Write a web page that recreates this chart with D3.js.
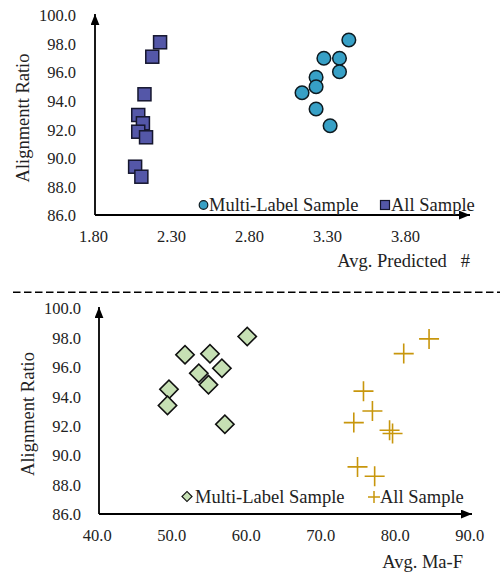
<!DOCTYPE html>
<html>
<head>
<meta charset="utf-8">
<script src="https://cdn.jsdelivr.net/npm/d3@7"></script>
<style>
  body { margin: 0; background: #fff; }
  svg text { font-family: "Times New Roman", "Liberation Serif", "DejaVu Serif", serif; }
</style>
</head>
<body>
<svg id="chart" width="500" height="574"></svg>
<script>
// top panel: avg predicted # vs alignment ratio
const multiPredicted = [3.44, 3.28, 3.38, 3.38, 3.23, 3.23, 3.14, 3.23, 3.32];
const multiRatioTop  = [98.25, 96.97, 96.97, 96.03, 95.64, 94.98, 94.56, 93.42, 92.25];
const allPredicted   = [2.23, 2.18, 2.13, 2.09, 2.12, 2.09, 2.14, 2.07, 2.11];
const allRatioTop    = [98.09, 97.08, 94.45, 93.00, 92.42, 91.83, 91.44, 89.38, 88.68];

// bottom panel: avg Ma-F vs alignment ratio
const multiMaF        = [60.2, 51.85, 55.2, 56.8, 53.7, 55.0, 49.7, 49.5, 57.2];
const multiRatioBot   = [98.06, 96.82, 96.89, 95.91, 95.57, 94.79, 94.47, 93.38, 92.10];
const allMaF          = [84.6, 81.2, 75.8, 77.0, 74.5, 79.3, 79.7, 75.0, 77.3];
const allRatioBot     = [97.9, 96.9, 94.35, 93.0, 92.21, 91.69, 91.47, 89.2, 88.57];

const ratioTicks     = [86, 88, 90, 92, 94, 96, 98, 100];
const predictedTicks = [1.8, 2.3, 2.8, 3.3, 3.8];
const maFTicks       = [40, 50, 60, 70, 80, 90];

const svg = d3.select("#chart");

const defs = svg.append("defs");
defs.append("marker")
  .attr("id", "arrow")
  .attr("viewBox", "0 0 10 8")
  .attr("refX", 10).attr("refY", 4)
  .attr("markerUnits", "userSpaceOnUse")
  .attr("markerWidth", 11).attr("markerHeight", 9)
  .attr("orient", "auto")
  .append("path")
  .attr("d", "M0,0L10,4L0,8Z")
  .attr("fill", "#000");

function panel(cfg) {
  const g = svg.append("g");
  const x = d3.scaleLinear().domain(cfg.xDomain).range(cfg.xRange);
  const y = d3.scaleLinear().domain([86, 100]).range([cfg.bottom, cfg.top]);

  // tick labels (no tick marks)
  const xa = g.append("g")
    .attr("transform", `translate(0,${cfg.bottom})`)
    .call(d3.axisBottom(x).tickValues(cfg.xTicks).tickFormat(d3.format(cfg.xFmt)).tickSize(0).tickPadding(15));
  const ya = g.append("g")
    .attr("transform", `translate(${cfg.left},0)`)
    .call(d3.axisLeft(y).tickValues(ratioTicks).tickFormat(d3.format(".1f")).tickSize(0).tickPadding(cfg.yPad));
  [xa, ya].forEach(a => {
    a.select(".domain").remove();
    a.selectAll("text").style("font-size", "16.5px").attr("fill", "#222");
  });
  ya.selectAll("text").attr("dy", "0.35em");

  // axis lines with arrows
  g.append("line")
    .attr("x1", cfg.left).attr("y1", cfg.bottom)
    .attr("x2", cfg.left).attr("y2", cfg.top - 1)
    .attr("stroke", "#000").attr("stroke-width", 1.8)
    .attr("marker-end", "url(#arrow)");
  g.append("line")
    .attr("x1", cfg.left).attr("y1", cfg.bottom)
    .attr("x2", cfg.arrowX).attr("y2", cfg.bottom)
    .attr("stroke", "#000").attr("stroke-width", 1.8)
    .attr("marker-end", "url(#arrow)");

  // axis titles
  g.append("text")
    .attr("transform", `translate(${cfg.yTitleX},${(cfg.top + cfg.bottom) / 2 + 3}) rotate(-90)`)
    .attr("text-anchor", "middle")
    .attr("dy", "0.35em")
    .style("font-size", "18.5px")
    .attr("fill", "#222")
    .text(cfg.yTitle);
  g.append("text")
    .attr("x", cfg.xTitleX).attr("y", cfg.xTitleY)
    .attr("text-anchor", "end")
    .attr("dy", "0.35em")
    .style("font-size", "18.5px")
    .attr("fill", "#222")
    .style("white-space", "pre")
    .text(cfg.xTitle);

  return { g, x, y };
}

// ---- top ----
const topP = panel({
  xDomain: [1.8, 4.2], xRange: [93, 467.4],
  left: 95, top: 15, bottom: 215, arrowX: 470,
  xTicks: predictedTicks, xFmt: ".2f", yPad: 19,
  yTitle: "Alignmentt Ratio", yTitleX: 23,
  xTitle: "Avg. Predicted   #", xTitleX: 470, xTitleY: 261
});

topP.g.append("g").selectAll("rect")
  .data(d3.zip(allPredicted, allRatioTop))
  .join("rect")
  .attr("x", d => topP.x(d[0]) - 6.5)
  .attr("y", d => topP.y(d[1]) - 6.5)
  .attr("width", 13).attr("height", 13)
  .attr("fill", "#5457a8")
  .attr("stroke", "#15162e").attr("stroke-width", 1.5);

topP.g.append("g").selectAll("circle")
  .data(d3.zip(multiPredicted, multiRatioTop))
  .join("circle")
  .attr("cx", d => topP.x(d[0]))
  .attr("cy", d => topP.y(d[1]))
  .attr("r", 6.8)
  .attr("fill", "#37a0c6")
  .attr("stroke", "#0d1a20").attr("stroke-width", 1.5);

// top legend
const lt = topP.g.append("g").attr("fill", "#222");
lt.append("circle").attr("cx", 203.5).attr("cy", 205).attr("r", 4.3)
  .attr("fill", "#37a0c6").attr("stroke", "#0d1a20").attr("stroke-width", 1.2);
lt.append("text").attr("x", 209).attr("y", 205).attr("dy", "0.35em").style("font-size", "18.5px").text("Multi-Label Sample");
lt.append("rect").attr("x", 380.5).attr("y", 200.5).attr("width", 9).attr("height", 9)
  .attr("fill", "#5457a8").attr("stroke", "#15162e").attr("stroke-width", 1.2);
lt.append("text").attr("x", 391).attr("y", 205).attr("dy", "0.35em").style("font-size", "18.5px").text("All Sample");

// separator
svg.append("line")
  .attr("x1", 13).attr("y1", 292.3).attr("x2", 500).attr("y2", 292.3)
  .attr("stroke", "#000").attr("stroke-width", 1.6)
  .attr("stroke-dasharray", "7.5,3.5");

// ---- bottom ----
const botP = panel({
  xDomain: [40, 90], xRange: [96.7, 469.3],
  left: 99, top: 308, bottom: 514, arrowX: 472,
  xTicks: maFTicks, xFmt: ".1f", yPad: 18,
  yTitle: "Alignment Ratio", yTitleX: 28,
  xTitle: "Avg. Ma-F", xTitleX: 463, xTitleY: 562
});

const diamond = d3.symbol().type(d3.symbolSquare).size(168);
botP.g.append("g").selectAll("path")
  .data(d3.zip(multiMaF, multiRatioBot))
  .join("path")
  .attr("d", diamond)
  .attr("transform", d => `translate(${botP.x(d[0])},${botP.y(d[1])}) rotate(45)`)
  .attr("fill", "#c6e0b4")
  .attr("stroke", "#111").attr("stroke-width", 1.6);

const crossPath = "M-10,0H10M0,-10V10";
botP.g.append("g").selectAll("path")
  .data(d3.zip(allMaF, allRatioBot))
  .join("path")
  .attr("d", crossPath)
  .attr("transform", d => `translate(${botP.x(d[0])},${botP.y(d[1])})`)
  .attr("fill", "none")
  .attr("stroke", "#c8960c").attr("stroke-width", 1.6);

// bottom legend
const lb = botP.g.append("g").attr("fill", "#222");
lb.append("path").attr("d", d3.symbol().type(d3.symbolSquare).size(50))
  .attr("transform", "translate(187,496.5) rotate(45)")
  .attr("fill", "#c6e0b4").attr("stroke", "#111").attr("stroke-width", 1.2);
lb.append("text").attr("x", 195).attr("y", 497).attr("dy", "0.35em").style("font-size", "18.5px").text("Multi-Label Sample");
lb.append("path").attr("d", "M-6,0H6M0,-6V6")
  .attr("transform", "translate(374,497)")
  .attr("stroke", "#c8960c").attr("stroke-width", 1.5);
lb.append("text").attr("x", 380).attr("y", 497).attr("dy", "0.35em").style("font-size", "18.5px").text("All Sample");
</script>
</body>
</html>
